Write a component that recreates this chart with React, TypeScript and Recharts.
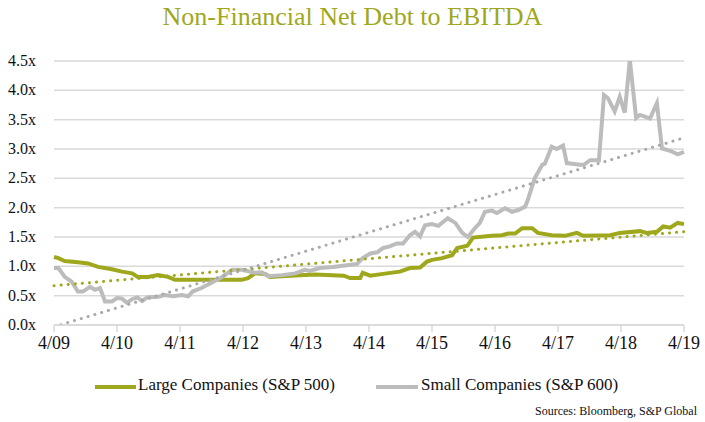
import { LineChart, Line, XAxis, YAxis, CartesianGrid } from "recharts";

// years since April 2009
const tickLabels = ["4/09", "4/10", "4/11", "4/12", "4/13", "4/14", "4/15", "4/16", "4/17", "4/18", "4/19"];
const xTicks = [0, 1, 2, 3, 4, 5, 6, 7, 8, 9, 10];
const yTicks = [0, 0.5, 1, 1.5, 2, 2.5, 3, 3.5, 4, 4.5];

const largeT = [
  0, 0.07, 0.17, 0.38, 0.54, 0.7, 0.92, 1.08, 1.24, 1.33, 1.49, 1.65, 1.81, 1.92, 2.08, 2.44, 2.98, 3.08,
  3.19, 3.35, 3.43, 3.62, 3.9, 4.14, 4.6, 4.7, 4.86, 4.9, 5.02, 5.28, 5.49, 5.65, 5.81, 5.92, 6.0, 6.16,
  6.32, 6.4, 6.56, 6.65, 6.95, 7.11, 7.21, 7.32, 7.43, 7.59, 7.68, 7.9, 8.11, 8.3, 8.4, 8.83, 8.98, 9.3,
  9.41, 9.57, 9.67, 9.78, 9.9, 10,
];
const largeVals = [
  1.16, 1.14, 1.09, 1.07, 1.05, 0.99, 0.95, 0.91, 0.88, 0.82, 0.82, 0.85, 0.82, 0.77, 0.77, 0.77, 0.77, 0.8,
  0.88, 0.87, 0.82, 0.83, 0.85, 0.86, 0.84, 0.8, 0.8, 0.89, 0.84, 0.88, 0.91, 0.97, 0.98, 1.08, 1.11, 1.14,
  1.19, 1.31, 1.35, 1.49, 1.52, 1.53, 1.56, 1.56, 1.65, 1.65, 1.57, 1.53, 1.52, 1.57, 1.52, 1.53, 1.57, 1.6,
  1.57, 1.59, 1.68, 1.66, 1.74, 1.72,
];

const smallT = [
  0, 0.07, 0.17, 0.28, 0.38, 0.46, 0.57, 0.65, 0.73, 0.81, 0.92, 1.0, 1.08, 1.16, 1.24, 1.32, 1.4, 1.48,
  1.65, 1.76, 1.89, 2.03, 2.13, 2.2, 2.34, 2.5, 2.67, 2.83, 2.98, 3.19, 3.3, 3.4, 3.62, 3.83, 3.98, 4.06,
  4.22, 4.43, 4.65, 4.81, 4.9, 5.02, 5.13, 5.22, 5.33, 5.44, 5.54, 5.65, 5.73, 5.81, 5.89, 6.0, 6.1, 6.25,
  6.37, 6.48, 6.57, 6.68, 6.76, 6.84, 6.95, 7.03, 7.16, 7.27, 7.37, 7.48, 7.52, 7.63, 7.75, 7.79, 7.9, 7.98,
  8.08, 8.14, 8.35, 8.41, 8.51, 8.65, 8.73, 8.79, 8.9, 8.98, 9.06, 9.14, 9.24, 9.3, 9.46, 9.57, 9.65, 9.78,
  9.9, 10,
];
const smallVals = [
  0.97, 0.97, 0.82, 0.74, 0.57, 0.57, 0.65, 0.6, 0.63, 0.4, 0.4, 0.46, 0.45, 0.38, 0.44, 0.47, 0.41, 0.47,
  0.48, 0.51, 0.49, 0.51, 0.49, 0.57, 0.63, 0.72, 0.82, 0.94, 0.94, 0.89, 0.9, 0.83, 0.85, 0.88, 0.94, 0.92,
  0.97, 0.99, 1.02, 1.04, 1.14, 1.22, 1.24, 1.31, 1.34, 1.39, 1.39, 1.53, 1.59, 1.51, 1.7, 1.72, 1.69, 1.82,
  1.74, 1.57, 1.5, 1.65, 1.74, 1.93, 1.95, 1.91, 1.99, 1.93, 1.96, 2.02, 2.13, 2.5, 2.73, 2.75, 3.04, 3.0,
  3.06, 2.76, 2.73, 2.73, 2.81, 2.81, 3.92, 3.87, 3.64, 3.89, 3.62, 4.52, 3.53, 3.58, 3.52, 3.78, 3.01, 2.97,
  2.91, 2.95,
];

const trendT = [0, 10];
const largeTrend = [0.67, 1.59];
const smallTrend = [-0.03, 3.19];

const GREEN = "#9fa71c";
const GRAY = "#bcbcbd";
const FONT = "'Liberation Serif', 'DejaVu Serif', serif";

const toRows = (ts: number[], vs: number[]) => ts.map((t, i) => ({ t, v: vs[i] }));

const largeData = toRows(largeT, largeVals);
const smallData = toRows(smallT, smallVals);
const largeTrendData = toRows(trendT, largeTrend);
const smallTrendData = toRows(trendT, smallTrend);

const YTick = (props: any) => {
  const { y, payload } = props;
  return (
    <text x={8} y={y} dy={5} fontSize={16} fill="#111" fontFamily={FONT} textAnchor="start">
      {payload.value.toFixed(1)}x
    </text>
  );
};

export default function App() {
  return (
    <div style={{ position: "absolute", left: 0, top: 0, width: 705, height: 422, background: "#fff", fontFamily: FONT }}>
      <div style={{ position: "absolute", top: 2, left: 0, width: 705, textAlign: "center", fontSize: 26, color: GREEN }}>
        Non-Financial Net Debt to EBITDA
      </div>

      <LineChart width={705} height={360} margin={{ top: 61, right: 21, left: 8, bottom: 0 }}>
        <CartesianGrid vertical={false} stroke="#d9d9d9" strokeWidth={1.5} />
        <XAxis
          dataKey="t"
          type="number"
          domain={[0, 10]}
          ticks={xTicks}
          tickFormatter={(i: number) => tickLabels[i]}
          height={35}
          tickSize={7}
          tickMargin={4}
          axisLine={{ stroke: "#d9d9d9", strokeWidth: 1.5 }}
          tickLine={{ stroke: "#d9d9d9", strokeWidth: 1.5 }}
          tick={{ fontSize: 18, fill: "#111", fontFamily: FONT }}
          allowDuplicatedCategory={false}
        />
        <YAxis
          width={46}
          domain={[0, 4.5]}
          ticks={yTicks}
          allowDataOverflow
          axisLine={false}
          tickLine={false}
          tick={<YTick />}
        />
        <Line data={largeData} dataKey="v" stroke={GREEN} strokeWidth={4} dot={false} isAnimationActive={false} />
        <Line data={smallData} dataKey="v" stroke={GRAY} strokeWidth={4} dot={false} isAnimationActive={false} />
        <Line
          data={largeTrendData}
          dataKey="v"
          stroke={GREEN}
          strokeWidth={3}
          strokeDasharray="0.1 7"
          strokeLinecap="round"
          dot={false}
          isAnimationActive={false}
        />
        <Line
          data={smallTrendData}
          dataKey="v"
          stroke="#a9a9aa"
          strokeWidth={3}
          strokeDasharray="0.1 7"
          strokeLinecap="round"
          dot={false}
          isAnimationActive={false}
        />
      </LineChart>

      <div style={{ position: "absolute", top: 375, left: 0, width: 705, fontSize: 17, color: "#111" }}>
        <span style={{ position: "absolute", left: 95, top: 10, width: 41, height: 4, background: GREEN }} />
        <span style={{ position: "absolute", left: 138, top: 0 }}>Large Companies (S&amp;P 500)</span>
        <span style={{ position: "absolute", left: 376, top: 10, width: 42, height: 4, background: GRAY }} />
        <span style={{ position: "absolute", left: 421, top: 0 }}>Small Companies (S&amp;P 600)</span>
      </div>

      <div style={{ position: "absolute", top: 404, right: 8, fontSize: 12, color: "#111" }}>
        Sources: Bloomberg, S&amp;P Global
      </div>
    </div>
  );
}
